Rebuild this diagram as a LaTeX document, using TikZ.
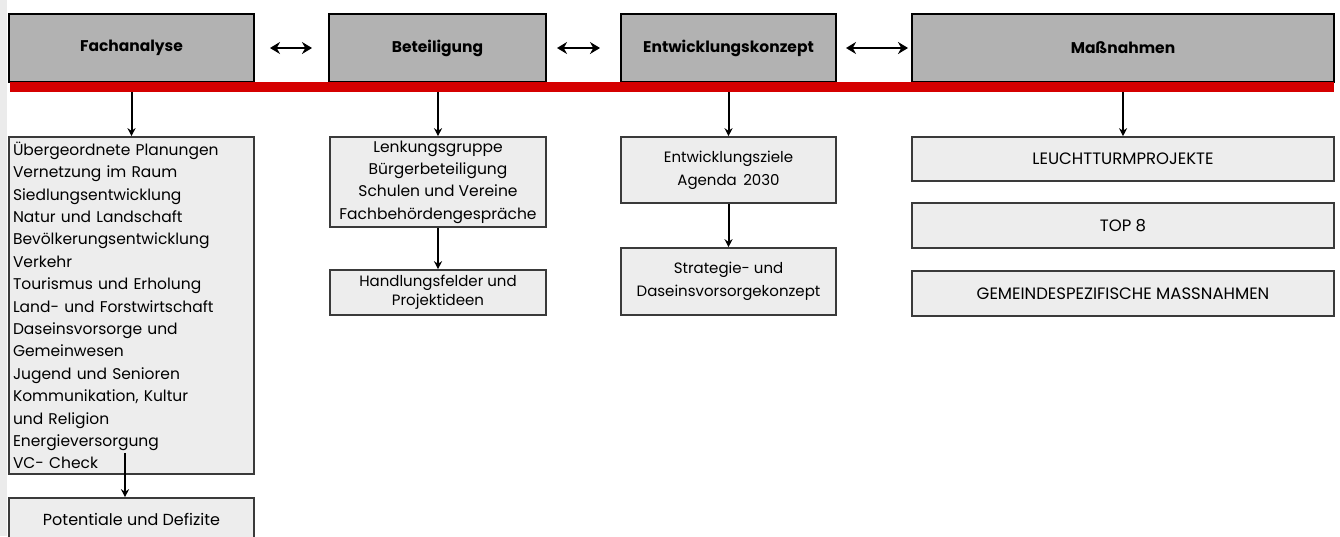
\documentclass[tikz,border=0pt]{standalone}
\usepackage{fontspec}
\setmainfont{Poppins}
\usetikzlibrary{arrows.meta}
\definecolor{hdrfill}{HTML}{B2B2B2}
\definecolor{subfill}{HTML}{EDEDED}
\definecolor{barred}{HTML}{D50000}
\definecolor{edgegray}{HTML}{3A3A3A}
\definecolor{stripgray}{HTML}{EBEBEB}
\tikzset{
  hdr/.style={draw=black, line width=2pt, fill=hdrfill, inner sep=0pt,
    font=\fontsize{15.5}{18}\selectfont\bfseries},
  sub/.style={draw=edgegray, line width=1.6pt, fill=subfill, inner sep=0pt, align=center,
    font=\fontsize{15.5}{22.4}\selectfont},
  caps/.style={font=\fontsize{16.5}{19}\selectfont},
  dbl/.style={{Stealth[length=10pt,width=12pt]}-{Stealth[length=10pt,width=12pt]}, line width=2.8pt},
  down/.style={-{Stealth[length=8pt,width=8pt]}, line width=2pt},
}
\begin{document}
\begin{tikzpicture}[x=1pt,y=-1pt]
\useasboundingbox (0,0) rectangle (1340,536);
\fill[white] (0,0) rectangle (1340,536);
\fill[stripgray] (0,0) rectangle (7,536);
% header boxes
\node[hdr, minimum width=245, minimum height=68] (fach) at (131.5,48) {Fachanalyse};
\node[hdr, minimum width=217, minimum height=68] (bet) at (437.5,48) {Beteiligung};
\node[hdr, minimum width=215, minimum height=68] (ent) at (728.5,48) {Entwicklungskonzept};
\node[hdr, minimum width=422, minimum height=68] (mass) at (1123,48) {Maßnahmen};
% red bar
\node[fill=barred, inner sep=0pt, minimum width=1324, minimum height=10] (bar) at (672,87) {};
% double arrows
\draw[dbl, shorten <=15pt, shorten >=16pt] (fach.east) -- (bet.west);
\draw[dbl, shorten <=10pt, shorten >=20pt] (bet.east) -- (ent.west);
\draw[dbl, shorten <=9pt, shorten >=3pt] (ent.east) -- (mass.west);
% Fachanalyse column
\node[sub, minimum width=245, minimum height=337, text width=237, align=left] (list) at (131.5,305.5) {%
Übergeordnete Planungen\\
Vernetzung im Raum\\
Siedlungsentwicklung\\
Natur und Landschaft\\
Bevölkerungsentwicklung\\
Verkehr\\
Tourismus und Erholung\\
Land- und Forstwirtschaft\\
Daseinsvorsorge und\\
Gemeinwesen\\
Jugend und Senioren\\
Kommunikation, Kultur\\
und Religion\\
Energieversorgung\\
VC- Check};
\node[sub, minimum width=245, minimum height=50] (pot) at (131.5,523) {};
\node[font=\fontsize{16}{19}\selectfont, inner sep=0pt] (pottext) at (131.5,519) {Potentiale und Defizite};
\coordinate (potstart) at ([xshift=-6.5pt,yshift=22pt]list.south);
\draw[down] (potstart) -- (potstart |- pot.north);
% Beteiligung column
\node[sub, minimum width=216, minimum height=90] (b1) at (438,182) {Lenkungsgruppe\\Bürgerbeteiligung\\Schulen und Vereine\\Fachbehördengespräche};
\node[sub, minimum width=216, minimum height=45, font=\fontsize{15}{19}\selectfont] (b2) at (438,292.5) {Handlungsfelder und\\Projektideen};
% Entwicklungskonzept column
\node[sub, minimum width=215, minimum height=66, font=\fontsize{15}{23}\selectfont] (e1) at (728.5,170) {Entwicklungsziele\\Agenda\, 2030};
\node[sub, minimum width=215, minimum height=67, font=\fontsize{15}{23}\selectfont] (e2) at (728.5,281.5) {Strategie- und\\Daseinsvorsorgekonzept};
% Massnahmen column
\node[sub, caps, minimum width=422, minimum height=44] (m1) at (1123,159) {LEUCHTTURMPROJEKTE};
\node[sub, caps, minimum width=422, minimum height=45] (m2) at (1123,225.5) {TOP 8};
\node[sub, caps, minimum width=422, minimum height=45] (m3) at (1123,293.5) {GEMEINDESPEZIFISCHE MASSNAHMEN};
% down arrows
\draw[down] (bar.south -| list.north) -- (list.north);
\draw[down] (bar.south -| b1.north) -- (b1.north);
\draw[down] (bar.south -| e1.north) -- (e1.north);
\draw[down] (bar.south -| m1.north) -- (m1.north);
\draw[down] (b1.south) -- (b2.north);
\draw[down] (e1.south) -- (e2.north);
\end{tikzpicture}
\end{document}
